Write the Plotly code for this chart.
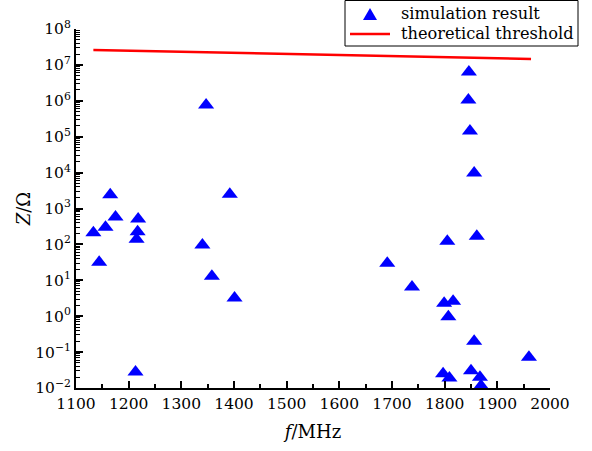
import plotly.graph_objects as go

# simulation result (frequency in MHz, impedance in Ohm)
sim_f = [1133, 1144, 1156, 1165, 1175, 1213, 1215, 1217, 1218,
         1340, 1347, 1358, 1392, 1401,
         1691, 1738, 1797, 1799, 1805, 1807, 1809, 1816,
         1845, 1846, 1848, 1850, 1856, 1856, 1861, 1867, 1869, 1960]
sim_z = [210, 32, 300, 2400, 580, 0.028, 140, 225, 510,
         96, 7.6e5, 13, 2500, 3.2,
         30, 6.5, 0.025, 2.3, 123, 0.96, 0.019, 2.6,
         1.05e6, 6.3e6, 1.45e5, 0.03, 9800, 0.2, 170, 0.02, 0.0115, 0.072]

# theoretical threshold
thr_f = [1133, 1550, 1964]
thr_z = [2.6e7, 1.95e7, 1.46e7]

# axis ticks
y_tickvals = [1e-2, 1e-1, 1e0, 1e1, 1e2, 1e3, 1e4, 1e5, 1e6, 1e7, 1e8]
y_ticktext = ["10<sup>\u22122</sup>", "10<sup>\u22121</sup>", "10<sup>0</sup>", "10<sup>1</sup>",
              "10<sup>2</sup>", "10<sup>3</sup>", "10<sup>4</sup>", "10<sup>5</sup>",
              "10<sup>6</sup>", "10<sup>7</sup>", "10<sup>8</sup>"]
x_tickvals = [1100, 1200, 1300, 1400, 1500, 1600, 1700, 1800, 1900, 2000]
legend_labels = ["simulation result", "theoretical threshold"]

minor_y = [m * 10 ** e for e in range(-2, 8) for m in range(2, 10)]

FONT = "DejaVu Serif"

# plot area in pixels (for placing the hand-drawn legend)
L, R, T, B, W, H = 76, 42, 29, 63, 592, 451
PW, PH = W - L - R, H - T - B


def px(x):
    return (x - L) / PW


def py(y):
    return 1 - (y - T) / PH


fig = go.Figure()
fig.add_trace(go.Scatter(
    x=sim_f, y=sim_z, mode="markers", name=legend_labels[0],
    marker=dict(symbol="triangle-up", color="#0000FF", size=14, line=dict(width=0)),
    cliponaxis=False, showlegend=False,
))
fig.add_trace(go.Scatter(
    x=thr_f, y=thr_z, mode="lines", name=legend_labels[1],
    line=dict(color="#FF0000", width=2.5), showlegend=False,
))

# compact legend box drawn by hand
shapes = [
    dict(type="rect", xref="paper", yref="paper", x0=px(345), x1=px(578), y0=py(46), y1=py(0.5),
         line=dict(color="black", width=1), fillcolor="white", layer="above"),
    dict(type="path", xref="paper", yref="paper",
         path=f"M{px(363)},{py(20)} L{px(377)},{py(20)} L{px(370)},{py(8)} Z",
         fillcolor="#0000FF", line=dict(width=0), layer="above"),
    dict(type="line", xref="paper", yref="paper", x0=px(350), x1=px(390), y0=py(34), y1=py(34),
         line=dict(color="#FF0000", width=2.5), layer="above"),
]
annotations = [
    dict(text=legend_labels[0], xref="paper", yref="paper", x=px(399), y=py(13),
         xanchor="left", yanchor="middle", showarrow=False,
         font=dict(family=FONT, size=16.2, color="black")),
    dict(text=legend_labels[1], xref="paper", yref="paper", x=px(399), y=py(33.5),
         xanchor="left", yanchor="middle", showarrow=False,
         font=dict(family=FONT, size=16.2, color="black")),
]

fig.update_layout(
    width=W, height=H,
    margin=dict(l=L, r=R, t=T, b=B, autoexpand=False),
    paper_bgcolor="white", plot_bgcolor="white",
    font=dict(family=FONT, size=15.5, color="black"),
    showlegend=False,
    shapes=shapes, annotations=annotations,
)

fig.update_xaxes(
    range=[1100, 2000], tickmode="array", tickvals=x_tickvals,
    showgrid=False, zeroline=False,
    showline=True, linecolor="black", linewidth=2,
    ticks="inside", ticklen=7, tickwidth=1.5, tickcolor="black",
    minor=dict(ticks="inside", ticklen=4, tickwidth=1.5, tickcolor="black",
               dtick=50, showgrid=False),
    tickfont=dict(family=FONT, size=15.5, color="black"),
    title=dict(text="<i>f</i>/MHz", font=dict(family=FONT, size=18, color="black"), standoff=14),
)
fig.update_yaxes(
    type="log", range=[-2, 8], tickmode="array", tickvals=y_tickvals, ticktext=y_ticktext,
    showgrid=False, zeroline=False,
    showline=True, linecolor="black", linewidth=2,
    ticks="inside", ticklen=7, tickwidth=1.5, tickcolor="black",
    minor=dict(ticks="inside", ticklen=4, tickwidth=1, tickcolor="black",
               tickmode="array", tickvals=minor_y, showgrid=False),
    tickfont=dict(family=FONT, size=15.5, color="black"),
    title=dict(text="<i>Z</i>/\u03a9", font=dict(family=FONT, size=18, color="black"), standoff=0),
)

fig.write_html("out.html")
